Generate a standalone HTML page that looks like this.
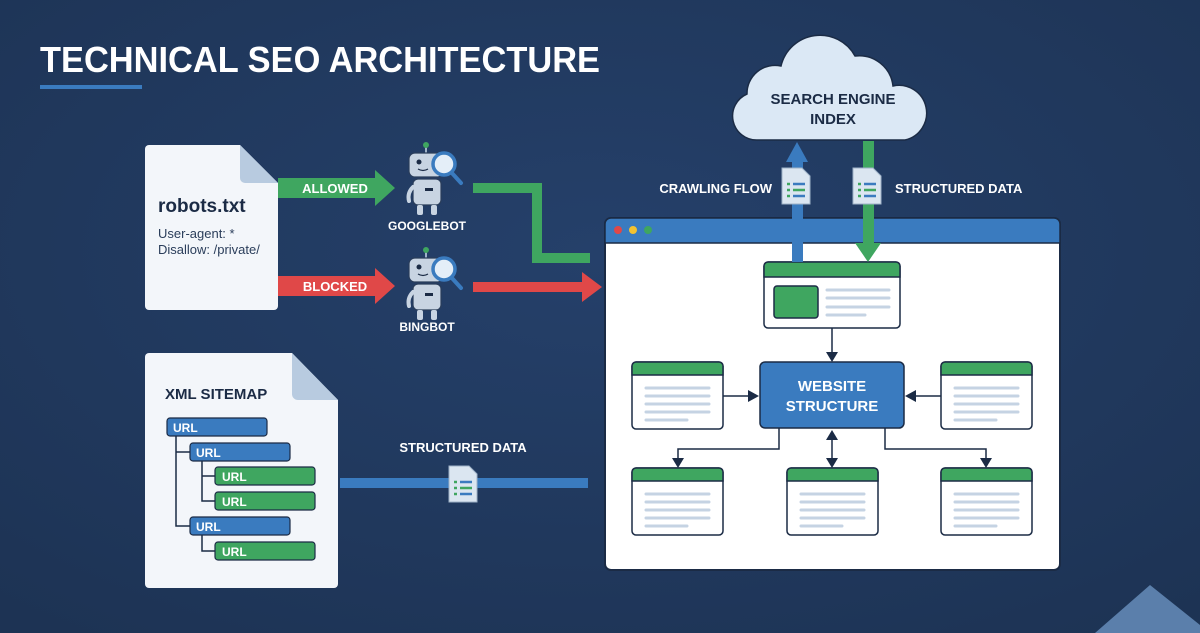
<!DOCTYPE html>
<html><head><meta charset="utf-8"><style>
html,body{margin:0;padding:0;background:#223a5c;}
svg{display:block}
text{font-family:"Liberation Sans",sans-serif;font-weight:bold}
text.n{font-weight:normal}
</style></head><body>
<svg width="1200" height="633" viewBox="0 0 1200 633" xmlns="http://www.w3.org/2000/svg">
<defs>
<radialGradient id="bg" cx="50%" cy="40%" r="75%"><stop offset="0" stop-color="#25406a"/><stop offset="1" stop-color="#1d3354"/></radialGradient>
<g id="card">
 <rect x="0" y="0" width="91" height="67" rx="4" fill="#fff" stroke="#1b2b45" stroke-width="1.5"/>
 <path d="M0 13 V4 a4 4 0 0 1 4 -4 H87 a4 4 0 0 1 4 4 V13 Z" fill="#3fa660" stroke="#1b2b45" stroke-width="1.5"/>
 <g stroke="#c5d3e3" stroke-width="3" stroke-linecap="round">
 <line x1="14" y1="26" x2="77" y2="26"/><line x1="14" y1="34" x2="77" y2="34"/><line x1="14" y1="42" x2="77" y2="42"/><line x1="14" y1="50" x2="77" y2="50"/><line x1="14" y1="58" x2="55" y2="58"/></g>
</g>
<g id="robot">
 <line x1="21" y1="0" x2="21" y2="8" stroke="#9fb3c8" stroke-width="2"/><circle cx="21" cy="0" r="3" fill="#3fa660"/>
 <rect x="4" y="8" width="34" height="24" rx="6" fill="#c8d4e2" stroke="#2a3d5a" stroke-width="1.2"/>
 <circle cx="14" cy="17" r="2.5" fill="#1b2b45"/><path d="M13 24 q5 3 10 0" stroke="#1b2b45" stroke-width="1.2" fill="none"/>
 <rect x="8" y="34" width="28" height="26" rx="5" fill="#c8d4e2" stroke="#2a3d5a" stroke-width="1.2"/>
 <rect x="20" y="43" width="8" height="3" fill="#1b2b45"/>
 <path d="M8 42 q-6 6 -4 14" stroke="#c8d4e2" stroke-width="4" fill="none" stroke-linecap="round"/>
 <rect x="12" y="60" width="6" height="10" rx="2" fill="#c8d4e2"/><rect x="26" y="60" width="6" height="10" rx="2" fill="#c8d4e2"/>
 <line x1="46" y1="27" x2="56" y2="38" stroke="#3a7bbf" stroke-width="4" stroke-linecap="round"/>
 <circle cx="39" cy="19" r="11" fill="#e4eef8" stroke="#3a7bbf" stroke-width="3.5"/>
</g>
<g id="mini">
 <path d="M0 0 H20 L28 8 V36 H0 Z" fill="#dbe6f1" stroke="#9fb3c8" stroke-width="1"/>
 <g stroke-width="2.5"><line x1="5" y1="16" x2="8" y2="16" stroke="#3fa660"/><line x1="11" y1="16" x2="23" y2="16" stroke="#3a7bbf"/><line x1="5" y1="22" x2="8" y2="22" stroke="#3fa660"/><line x1="11" y1="22" x2="23" y2="22" stroke="#3fa660"/><line x1="5" y1="28" x2="8" y2="28" stroke="#3fa660"/><line x1="11" y1="28" x2="23" y2="28" stroke="#3a7bbf"/></g>
</g>
</defs>
<rect width="1200" height="633" fill="url(#bg)"/>
<polygon points="1150,585 1200,625 1200,633 1095,633" fill="#5b7fab"/>

<text x="40" y="72" font-size="36" fill="#fff" textLength="560" lengthAdjust="spacingAndGlyphs">TECHNICAL SEO ARCHITECTURE</text>
<rect x="40" y="85" width="102" height="4" fill="#3a7bbf"/>

<!-- robots doc -->
<path d="M145 149 a4 4 0 0 1 4 -4 H240 L278 183 V306 a4 4 0 0 1 -4 4 H149 a4 4 0 0 1 -4 -4 Z" fill="#f3f6fa"/>
<path d="M240 145 V178 a5 5 0 0 0 5 5 H278 Z" fill="#b8cbe0"/>
<text x="158" y="212" font-size="19" fill="#1b2b45">robots.txt</text>
<text class="n" x="158" y="238" font-size="13" fill="#2a3d5a">User-agent: *</text>
<text class="n" x="158" y="254" font-size="13" fill="#2a3d5a">Disallow: /private/</text>

<!-- allowed -->
<polygon points="278,178 375,178 375,170 395,188 375,206 375,198 278,198" fill="#3fa660"/>
<text x="335" y="193" font-size="13" fill="#fff" text-anchor="middle">ALLOWED</text>
<polygon points="278,276 375,276 375,268 395,286 375,304 375,296 278,296" fill="#e04848"/>
<text x="335" y="291" font-size="13" fill="#fff" text-anchor="middle">BLOCKED</text>

<use href="#robot" x="405" y="145"/>
<text x="427" y="230" font-size="12" fill="#fff" text-anchor="middle">GOOGLEBOT</text>
<use href="#robot" x="405" y="250"/>
<text x="427" y="331" font-size="12" fill="#fff" text-anchor="middle">BINGBOT</text>

<polyline points="473,188 537,188 537,258 590,258" fill="none" stroke="#3fa660" stroke-width="10"/>
<polygon points="473,282 582,282 582,272 602,287 582,302 582,292 473,292" fill="#e04848"/>

<!-- browser -->
<rect x="605" y="218" width="455" height="352" rx="6" fill="#fff" stroke="#1b2b45" stroke-width="2"/>
<path d="M605 243 V224 a6 6 0 0 1 6 -6 H1054 a6 6 0 0 1 6 6 V243 Z" fill="#3a7bbf" stroke="#1b2b45" stroke-width="1.5"/>
<circle cx="618" cy="230" r="4" fill="#e04848"/><circle cx="633" cy="230" r="4" fill="#f2c230"/><circle cx="648" cy="230" r="4" fill="#3fa660"/>

<!-- top card -->
<rect x="764" y="262" width="136" height="66" rx="4" fill="#fff" stroke="#1b2b45" stroke-width="1.5"/>
<path d="M764 277 V266 a4 4 0 0 1 4 -4 H896 a4 4 0 0 1 4 4 V277 Z" fill="#3fa660" stroke="#1b2b45" stroke-width="1.5"/>
<rect x="774" y="286" width="44" height="32" rx="3" fill="#3fa660" stroke="#1b2b45" stroke-width="1.5"/>
<g stroke="#c5d3e3" stroke-width="3" stroke-linecap="round"><line x1="827" y1="290" x2="889" y2="290"/><line x1="827" y1="298" x2="889" y2="298"/><line x1="827" y1="307" x2="889" y2="307"/><line x1="827" y1="315" x2="865" y2="315"/></g>

<!-- connectors -->
<g stroke="#1b2b45" stroke-width="1.5" fill="none">
<line x1="832" y1="328" x2="832" y2="352"/>
<line x1="723" y1="396" x2="748" y2="396"/>
<line x1="941" y1="396" x2="916" y2="396"/>
<polyline points="779,428 779,449 678,449 678,458"/>
<polyline points="885,428 885,449 986,449 986,458"/>
<line x1="832" y1="440" x2="832" y2="458"/>
</g>
<g fill="#1b2b45">
<polygon points="826,352 838,352 832,362"/>
<polygon points="748,390 748,402 759,396"/>
<polygon points="916,390 916,402 905,396"/>
<polygon points="672,458 684,458 678,468"/>
<polygon points="980,458 992,458 986,468"/>
<polygon points="826,458 838,458 832,468"/>
<polygon points="826,440 838,440 832,430"/>
</g>
<rect x="760" y="362" width="144" height="66" rx="5" fill="#3a7bbf" stroke="#1b2b45" stroke-width="1.5"/>
<text x="832" y="391" font-size="15" fill="#fff" text-anchor="middle">WEBSITE</text>
<text x="832" y="411" font-size="15" fill="#fff" text-anchor="middle">STRUCTURE</text>
<use href="#card" x="632" y="362"/>
<use href="#card" x="941" y="362"/>
<use href="#card" x="632" y="468"/>
<use href="#card" x="787" y="468"/>
<use href="#card" x="941" y="468"/>

<!-- cloud -->
<path d="M757 140 a24 24 0 0 1 -10 -46 a28 28 0 0 1 34 -28 a40 40 0 0 1 74 -10 a34 34 0 0 1 38 30 a27 27 0 0 1 12 54 Z" fill="#dbe8f5" stroke="#1b2b45" stroke-width="1.5"/>
<text x="833" y="104" font-size="15" fill="#1b2b45" text-anchor="middle">SEARCH ENGINE</text>
<text x="833" y="124" font-size="15" fill="#1b2b45" text-anchor="middle">INDEX</text>

<!-- up/down arrows -->
<rect x="792" y="160" width="11" height="102" fill="#3a7bbf"/>
<polygon points="786,162 797,142 808,162" fill="#3a7bbf"/>
<rect x="863" y="141" width="11" height="105" fill="#3fa660"/>
<polygon points="855,243 868,262 881,243" fill="#3fa660"/>
<use href="#mini" x="782" y="168"/>
<use href="#mini" x="853" y="168"/>
<text x="772" y="193" font-size="13" fill="#fff" text-anchor="end">CRAWLING FLOW</text>
<text x="895" y="193" font-size="13" fill="#fff">STRUCTURED DATA</text>

<!-- sitemap -->
<path d="M145 357 a4 4 0 0 1 4 -4 H292 L338 400 V584 a4 4 0 0 1 -4 4 H149 a4 4 0 0 1 -4 -4 Z" fill="#f3f6fa"/>
<path d="M292 353 V394 a6 6 0 0 0 6 6 H338 Z" fill="#b8cbe0"/>
<text x="165" y="399" font-size="15" fill="#1b2b45">XML SITEMAP</text>
<g stroke="#1b2b45" stroke-width="1.5" fill="none">
<polyline points="176,436 176,526 190,526"/><line x1="176" y1="452" x2="190" y2="452"/>
<polyline points="202,461 202,501 215,501"/><line x1="202" y1="476" x2="215" y2="476"/>
<polyline points="202,535 202,551 215,551"/>
</g>
<g stroke="#1b2b45" stroke-width="1.2">
<rect x="167" y="418" width="100" height="18" rx="3" fill="#3a7bbf"/>
<rect x="190" y="443" width="100" height="18" rx="3" fill="#3a7bbf"/>
<rect x="215" y="467" width="100" height="18" rx="3" fill="#3fa660"/>
<rect x="215" y="492" width="100" height="18" rx="3" fill="#3fa660"/>
<rect x="190" y="517" width="100" height="18" rx="3" fill="#3a7bbf"/>
<rect x="215" y="542" width="100" height="18" rx="3" fill="#3fa660"/>
</g>
<g font-size="12" fill="#fff">
<text x="173" y="432">URL</text><text x="196" y="457">URL</text><text x="222" y="481">URL</text>
<text x="222" y="506">URL</text><text x="196" y="531">URL</text><text x="222" y="556">URL</text>
</g>

<rect x="340" y="478" width="248" height="10" fill="#3a7bbf"/>
<use href="#mini" x="449" y="466"/>
<text x="463" y="452" font-size="13" fill="#fff" text-anchor="middle">STRUCTURED DATA</text>
</svg>
</body></html>
